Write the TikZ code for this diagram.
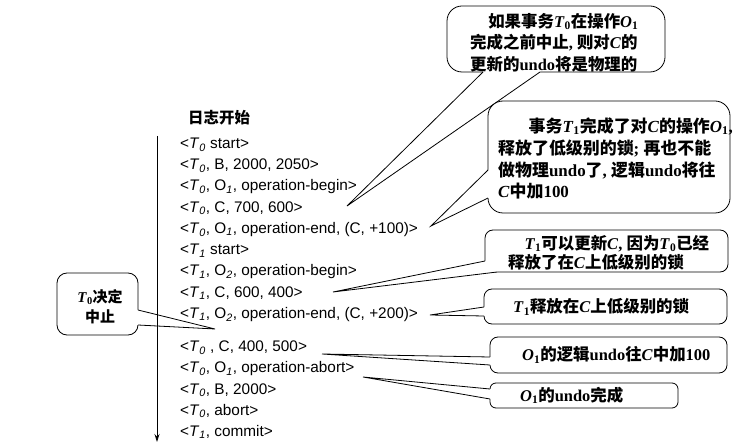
\documentclass[tikz,border=0pt]{standalone}
\usepackage{fontspec}
\setmainfont{Liberation Serif}
\newfontfamily\lsans{Liberation Sans}
\newfontfamily\cjk{Noto Sans CJK SC}
\usetikzlibrary{arrows.meta}
\newcommand\Zh[1]{{\cjk\bfseries #1}}
\newcommand\Vb[2]{\textbf{\textit{#1}}\textsubscript{\textbf{#2}}}
\newcommand\Vc[1]{\textbf{\textit{#1}}}
\newcommand\Ti[1]{\textit{T}\textsubscript{\textit{#1}}}
\newcommand\Oi[1]{O\textsubscript{\textit{#1}}}
\begin{document}
\begin{tikzpicture}[x=1bp,y=-1bp,
  logline/.style={anchor=base west, inner sep=0pt, font={\lsans\fontsize{15.4}{18}\selectfont}},
  headline/.style={anchor=base west, inner sep=0pt, font={\cjk\bfseries\fontsize{15.5}{18}\selectfont}},
  bubA/.style={draw=black, fill=white, line width=0.8bp, rounded corners=15bp},
  bubB/.style={draw=black, fill=white, line width=0.8bp, rounded corners=8bp},
  ptr/.style={draw=black, line width=0.8bp, line join=miter},
  ptrfill/.style={fill=white},
  btext/.style={anchor=west, inner sep=0pt, align=left, font={\fontsize{16.5}{21.5}\selectfont}}]
\useasboundingbox (0,0) rectangle (747,448);

% pointer tips
\coordinate (p1) at (347,206);
\coordinate (p2) at (431,226);
\coordinate (p3) at (333,292);
\coordinate (p4) at (430,315);
\coordinate (p5) at (322,354);
\coordinate (p6) at (363,377);
\coordinate (p7) at (215,329);

% callout 1
\draw[bubA] (447,6) rectangle (665,72);
\fill[ptrfill] (p1) -- (483,72) -- (483,70) -- (540,70) -- (540,72) -- cycle;
\draw[ptr] (483,72) -- (p1) -- (540,72);
\node[btext] (t1) at (470,42.5) {\hspace*{1.1em}\Zh{如果事务}\Vb{T}{0}\Zh{在操作}\Vb{O}{1}\\
\Zh{完成之前中止}\textbf{, }\Zh{则对}\Vc{C}\Zh{的}\\
\Zh{更新的}\textbf{undo}\Zh{将是物理的}};

% callout 2
\draw[bubA] (488,101) rectangle (730,213);
\fill[ptrfill] (p2) -- (488,170) -- (490,170) -- (490,198) -- (488,198) -- cycle;
\draw[ptr] (488,170) -- (p2) -- (488,198);
\node[btext, font={\fontsize{17}{22}\selectfont}] (t2) at (498,158.5) {\hspace*{1.8em}\Zh{事务}\Vb{T}{1}\Zh{完成了对}\Vc{C}\Zh{的操作}\Vb{O}{1}\textbf{,}\\
\Zh{释放了低级别的锁}\textbf{; }\Zh{再也不能}\\
\Zh{做物理}\textbf{undo}\Zh{了}\textbf{, }\Zh{逻辑}\textbf{undo}\Zh{将往}\\
\Vc{C}\Zh{中加}\textbf{100}};

% callout 3
\draw[bubB] (485,230) rectangle (728,272);
\fill[ptrfill] (p3) -- (485,261) -- (487,261) -- (497,270) -- (497,272) -- cycle;
\draw[ptr] (485,261) -- (p3) -- (497,272);
\node[btext, font={\fontsize{16.5}{19}\selectfont}] (t3) at (508,252.5) {\hspace*{1em}\Vb{T}{1}\Zh{可以更新}\Vc{C}\textbf{, }\Zh{因为}\Vb{T}{0}\Zh{已经}\\
\Zh{释放了在}\Vc{C}\Zh{上低级别的锁}};

% callout 4
\draw[bubB] (484,289) rectangle (727,324);
\fill[ptrfill] (p4) -- (484,307) -- (486,307) -- (486,316) -- (484,316) -- cycle;
\draw[ptr] (484,307) -- (p4) -- (484,316);
\node[btext] (t4) at (513,307) {\Vb{T}{1}\Zh{释放在}\Vc{C}\Zh{上低级别的锁}};

% callout 5
\draw[bubB] (490,337) rectangle (727,373);
\fill[ptrfill] (p5) -- (490,357) -- (492,357) -- (492,365) -- (490,365) -- cycle;
\draw[ptr] (490,357) -- (p5) -- (490,365);
\node[btext] (t5) at (522,355) {\Vb{O}{1}\Zh{的逻辑}\textbf{undo}\Zh{往}\Vc{C}\Zh{中加}\textbf{100}};

% callout 6
\draw[bubB, rounded corners=6bp] (490,383) rectangle (678,408);
\fill[ptrfill] (p6) -- (490,389) -- (492,389) -- (492,399) -- (490,399) -- cycle;
\draw[ptr] (490,389) -- (p6) -- (490,399);
\node[btext] (t6) at (520,395.5) {\Vb{O}{1}\Zh{的}\textbf{undo}\Zh{完成}};

% callout 7
\draw[bubB, rounded corners=10bp] (57,273) rectangle (138,335);
\fill[ptrfill] (p7) -- (138,310) -- (136,310) -- (136,325) -- (138,325) -- cycle;
\draw[ptr] (138,310) -- (p7) -- (138,325);
\node[inner sep=0pt, align=center, font={\fontsize{15}{20}\selectfont}] (t7) at (100,307) {\Vb{T}{0}\Zh{决定}\\\Zh{中止}};

% log
\node[headline] (h) at (188,124) {日志开始};
\node[logline] (l1) at (180,148.5) {<\Ti{0} start>};
\node[logline] (l2) at (180,169.8) {<\Ti{0}, B, 2000, 2050>};
\node[logline] (l3) at (180,191) {<\Ti{0}, \Oi{1}, operation-begin>};
\node[logline] (l4) at (180,212.3) {<\Ti{0}, C, 700, 600>};
\node[logline] (l5) at (180,233.5) {<\Ti{0}, \Oi{1}, operation-end, (C, +100)>};
\node[logline] (l6) at (180,254.8) {<\Ti{1} start>};
\node[logline] (l7) at (180,276) {<\Ti{1}, \Oi{2}, operation-begin>};
\node[logline] (l8) at (180,297.3) {<\Ti{1}, C, 600, 400>};
\node[logline] (l9) at (180,318.5) {<\Ti{1}, \Oi{2}, operation-end, (C, +200)>};
\node[logline] (l10) at (180,351.5) {<\Ti{0} , C, 400, 500>};
\node[logline] (l11) at (180,372.8) {<\Ti{0}, \Oi{1}, operation-abort>};
\node[logline] (l12) at (180,394) {<\Ti{0}, B, 2000>};
\node[logline] (l13) at (180,415.3) {<\Ti{0}, abort>};
\node[logline] (l14) at (180,436.5) {<\Ti{1}, commit>};

% time axis
\coordinate (ax0) at (157,136);
\coordinate (ax1) at (157,442);
\draw[line width=0.8bp, -{Stealth[length=8bp,width=5bp]}] (ax0) -- (ax1);
\end{tikzpicture}
\end{document}
